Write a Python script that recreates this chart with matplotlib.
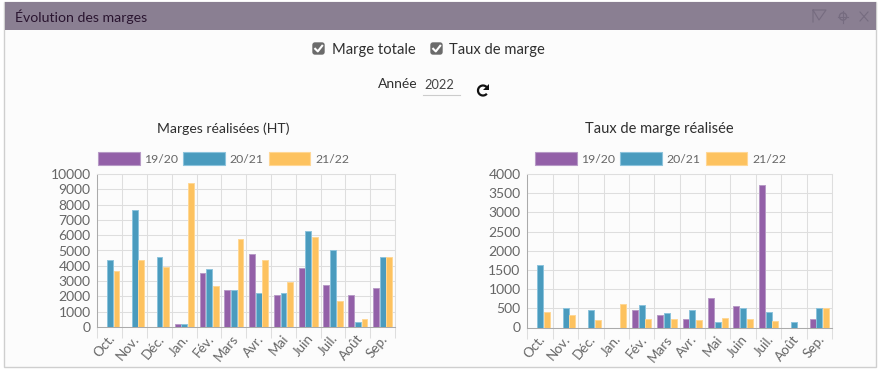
import matplotlib
matplotlib.use("Agg")
import matplotlib.pyplot as plt
import numpy as np
from matplotlib.patches import Rectangle, FancyBboxPatch, Patch, Arc, Polygon

plt.rcParams['font.family'] = ['Lato', 'DejaVu Sans']

months = ["Oct.", "Nov.", "Déc.", "Jan.", "Fév.", "Mars", "Avr.", "Mai", "Juin", "Juil.", "Août", "Sep."]
series_names = ["19/20", "20/21", "21/22"]
marge_1920 = [0, 0, 0, 200, 3500, 2400, 4800, 2100, 3850, 2750, 2100, 2550]
marge_2021 = [4350, 7650, 4600, 200, 3800, 2400, 2250, 2200, 6300, 5000, 350, 4550]
marge_2122 = [3650, 4350, 3900, 9400, 2700, 5750, 4350, 2950, 5900, 1700, 550, 4550]
taux_1920 = [0, 0, 0, 0, 450, 330, 230, 780, 550, 3720, 0, 230]
taux_2021 = [1620, 510, 450, 0, 580, 390, 450, 150, 510, 410, 150, 500]
taux_2122 = [410, 330, 200, 620, 230, 210, 190, 250, 210, 180, 0, 510]

colors = ["#9360A8", "#4A9BBE", "#FDC25F"]
edges = ["#B79AC6", "#8CC3DC", "#FFD795"]
W, H = 879, 371
TXT = "#2f2f2f"
TICK = "#666666"

fig = plt.figure(figsize=(W / 100, H / 100), dpi=100, facecolor="white")
bg = fig.add_axes([0, 0, 1, 1], zorder=0)
bg.set_xlim(0, W)
bg.set_ylim(H, 0)
bg.axis("off")

# panel and header
bg.add_patch(Rectangle((4.5, 2), 872, 365, fc="#FCFCFC", ec="#CFCFCF", lw=1))
bg.add_patch(Rectangle((5, 2), 871, 28, fc="#8A7F92", ec="none"))
bg.text(15, 17, "Évolution des marges", fontsize=10.2, color="#2A1530", va="center", ha="left")

# header icons
ic = "#766C80"
bg.plot([813, 813, 826, 819, 813], [22, 10, 10, 20, 10], color=ic, lw=0.8)
bg.plot([838, 848], [16.5, 16.5], color=ic, lw=0.8)
bg.plot([843, 843], [10.5, 22.5], color=ic, lw=0.8)
bg.add_patch(plt.Circle((843, 16.5), 3.6, fc="none", ec=ic, lw=1.0))
bg.plot([860, 868], [12, 21], color=ic, lw=0.8)
bg.plot([868, 860], [12, 21], color=ic, lw=0.8)


def checkbox(x, y):
    bg.add_patch(FancyBboxPatch((x + 1, y + 1), 11, 11, boxstyle="round,pad=0,rounding_size=2",
                                fc="#6B6B6B", ec="#6B6B6B", lw=1))
    bg.plot([x + 3.2, x + 5.8, x + 10.2], [y + 6.8, y + 9.4, y + 3.8], color="white", lw=1.5)


checkbox(312, 42)
bg.text(332, 50, "Marge totale", fontsize=10.6, color=TXT, va="center", ha="left")
checkbox(430, 42)
bg.text(449, 50, "Taux de marge", fontsize=10.6, color=TXT, va="center", ha="left")
bg.text(378, 84, "Année", fontsize=10, color=TXT, va="center", ha="left")
bg.text(424, 85, "2022", fontsize=9.2, color="#444444", va="center", ha="left")
bg.plot([423, 460], [94.5, 94.5], color="#CCCCCC", lw=0.8)
# refresh icon
bg.add_patch(Arc((483, 90.5), 10, 10, theta1=-320, theta2=-10, color="#111111", lw=1.6))
bg.add_patch(Polygon([[489.5, 84], [489.5, 90], [483.5, 90]], fc="#111111", ec="none"))


def draw_chart(left, right, top, bottom, title, title_x, title_size, data, ymax, step, legend_x):
    ax = fig.add_axes([left / W, 1 - bottom / H, (right - left) / W, (bottom - top) / H], zorder=1)
    ax.set_facecolor("none")
    x = np.arange(len(months))
    for i, vals in enumerate(data):
        ax.bar(x + (i - 1) * 0.267, vals, width=0.235, color=colors[i], edgecolor=edges[i],
               linewidth=0.7, zorder=3)
    ax.set_xlim(-0.5, len(months) - 0.5)
    ax.set_ylim(0, ymax)
    ax.set_yticks(np.arange(0, ymax + 1, step))
    ax.set_xticks(np.append(x - 0.5, len(months) - 0.5))
    ax.set_xticklabels([""] * (len(months) + 1))
    ax.grid(True, color="#DEDEDE", lw=0.75, zorder=0)
    ax.set_axisbelow(True)
    for s in ["top", "right"]:
        ax.spines[s].set_color("#DEDEDE")
        ax.spines[s].set_linewidth(0.75)
    for s in ["left", "bottom"]:
        ax.spines[s].set_color("#ABABAB")
        ax.spines[s].set_linewidth(0.75)
    ax.tick_params(axis="x", length=8, color="#DEDEDE", width=0.75, pad=0)
    ax.tick_params(axis="y", length=0, labelsize=10, labelcolor=TICK, pad=5)
    for i, m in enumerate(months):
        ax.annotate(m, xy=(i, 0), xycoords=("data", "axes fraction"), xytext=(-1.5, -4),
                    textcoords="offset points", rotation=50, rotation_mode="anchor",
                    ha="right", va="top", fontsize=9.7, color=TICK)
    bg.text(title_x, 128.5, title, fontsize=title_size, color=TXT, ha="center", va="center")
    handles = [Patch(fc=colors[i], ec=edges[i], lw=0.8, label=series_names[i]) for i in range(3)]
    ax.legend(handles=handles, ncol=3, loc="lower left", frameon=False,
              bbox_to_anchor=(legend_x / W, 1 - 165 / H), bbox_transform=fig.transFigure,
              fontsize=8.8, handlelength=3.4, handleheight=1.25, handletextpad=0.4,
              columnspacing=0.4, borderaxespad=0, borderpad=0, labelcolor=TICK)
    return ax


draw_chart(97.5, 395, 174, 327, "Marges réalisées (HT)", 223.5, 10.1,
           [marge_1920, marge_2021, marge_2122], 10000, 1000, 98)
draw_chart(527.5, 832, 174, 327.5, "Taux de marge réalisée", 659.5, 10.5,
           [taux_1920, taux_2021, taux_2122], 4000, 500, 535)

fig.savefig("out.png", dpi=100, facecolor="white")
